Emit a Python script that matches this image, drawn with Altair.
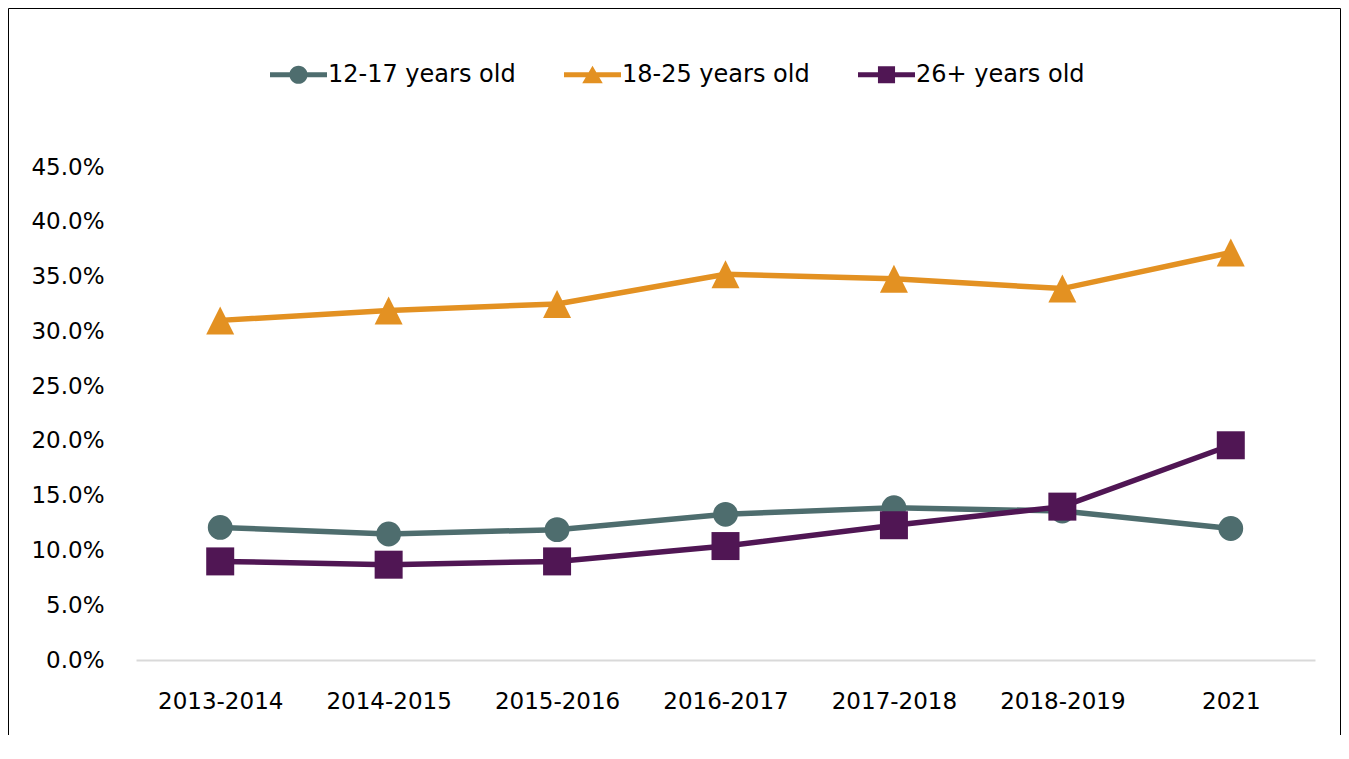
import altair as alt
import pandas as pd

periods = ["2013-2014", "2014-2015", "2015-2016", "2016-2017", "2017-2018", "2018-2019", "2021"]
groups = ["12-17 years old", "18-25 years old", "26+ years old"]
age_12_17 = [12.1, 11.5, 11.9, 13.3, 13.9, 13.6, 12.0]
age_18_25 = [31.0, 31.9, 32.5, 35.2, 34.8, 33.9, 37.2]
age_26_plus = [9.0, 8.7, 9.0, 10.4, 12.3, 14.0, 19.6]
colors = ["#4E6D6E", "#E39122", "#501654"]
y_ticks = [0, 0.05, 0.10, 0.15, 0.20, 0.25, 0.30, 0.35, 0.40, 0.45]

series = [age_12_17, age_18_25, age_26_plus]
rows = []
for g, vals in zip(groups, series):
    for p, v in zip(periods, vals):
        rows.append({"period": p, "group": g, "value": v / 100.0})
df = pd.DataFrame(rows)

FONT = "DejaVu Sans"
FS = 23
W, H = 1179, 493

# marker shapes for the data points
data_shapes = ["circle", "M0,-1L1,1L-1,1Z", "square"]
data_sizes = [616, 784, 784]

# legend symbols: line with the marker on top (unit path, scaled by symbol size)
bar = "M-1,-0.09H1V0.09H-1Z "
legend_paths = [
    bar + "M0.32,0A0.32,0.32 0 1,1 -0.32,0A0.32,0.32 0 1,1 0.32,0Z",
    bar + "M0,-0.32L0.36,0.3L-0.36,0.3Z",
    bar + "M-0.3,-0.3H0.3V0.3H-0.3Z",
]

color_scale = alt.Scale(domain=groups, range=colors)
x_enc = alt.X(
    "period:N",
    sort=periods,
    scale=alt.Scale(type="point", padding=0.5, domain=periods),
    axis=alt.Axis(
        title=None, labelAngle=0, ticks=False, domain=True, domainColor="#D9D9D9",
        domainWidth=2, labelFontSize=FS, labelFont=FONT, labelColor="#000000",
        labelPadding=30, grid=False,
    ),
)
y_enc = alt.Y(
    "value:Q",
    scale=alt.Scale(domain=[0, 0.45], nice=False),
    axis=alt.Axis(
        title=None, values=y_ticks, format=".1%", ticks=False, domain=False, grid=False,
        labelFontSize=FS, labelFont=FONT, labelColor="#000000", labelPadding=32,
    ),
)

legend_def = alt.Legend(
    title=None, orient="none", direction="horizontal", legendX=134, legendY=-121,
    labelFontSize=24, labelFont=FONT, labelColor="#000000", symbolSize=3249,
    labelOffset=1, columnPadding=48, padding=0, symbolStrokeWidth=0,
    symbolOpacity=1, labelLimit=600,
)

base = alt.Chart(df)

layers = []
# border
layers.append(
    alt.Chart(pd.DataFrame({"k": [0]})).mark_rect(
        fill=None, stroke="#000000", strokeWidth=1
    ).encode(
        x=alt.value(-127.5), x2=alt.value(W + 25.5),
        y=alt.value(-158.5), y2=alt.value(H + 200),
    )
)

# legend-only layer (no visible marks); first colour layer so its legend settings win
layers.append(
    base.transform_filter("false").mark_point(
        filled=True, opacity=1, strokeWidth=0
    ).encode(
        x=x_enc, y=y_enc,
        color=alt.Color("group:N", scale=color_scale, legend=legend_def),
        shape=alt.Shape("group:N", scale=alt.Scale(domain=groups, range=legend_paths),
                        legend=legend_def),
    )
)

for g, shp, sz in zip(groups, data_shapes, data_sizes):
    sub = base.transform_filter(alt.datum.group == g)
    layers.append(
        sub.mark_line(strokeWidth=5.5).encode(
            x=x_enc, y=y_enc,
            color=alt.Color("group:N", scale=color_scale),
        )
    )
    layers.append(
        sub.mark_point(filled=True, opacity=1, shape=shp, size=sz, strokeWidth=0).encode(
            x=x_enc, y=y_enc,
            color=alt.Color("group:N", scale=color_scale),
        )
    )

chart = alt.layer(*layers).properties(
    width=W, height=H,
    autosize=alt.AutoSizeParams(type="none"),
    padding={"left": 128, "top": 159, "right": 26, "bottom": 75},
    background="#FFFFFF",
).configure_view(stroke=None)

chart.save("out.html", embed_options={"renderer": "svg", "actions": False})
